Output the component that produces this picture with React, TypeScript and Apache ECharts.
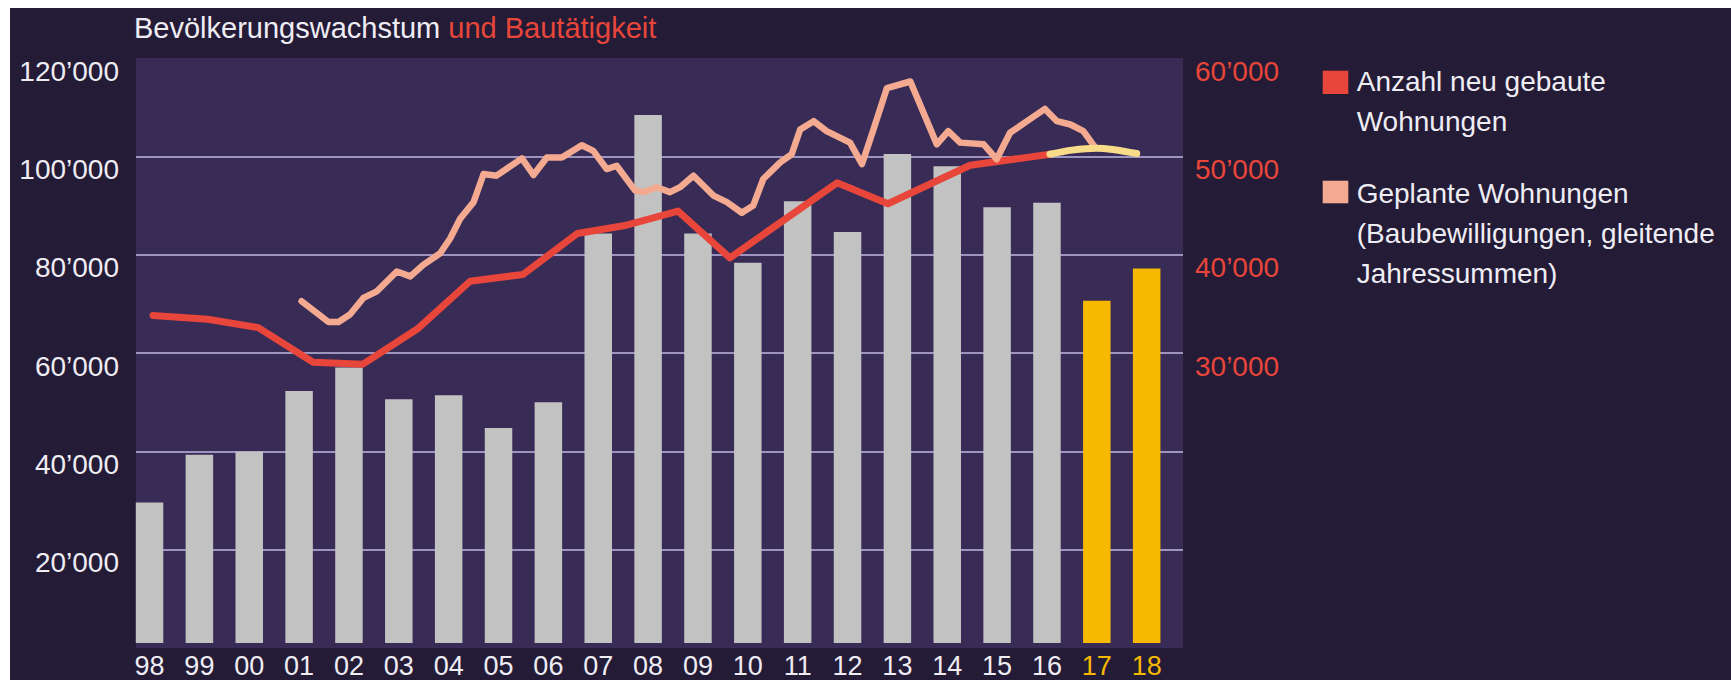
import React, { useEffect, useRef } from 'react';
import * as echarts from 'echarts';

// ---- data ----
const categories = ['98', '99', '00', '01', '02', '03', '04', '05', '06', '07', '08', '09', '10', '11', '12', '13', '14', '15', '16', '17', '18'];
const forecastCategories = ['17', '18'];
const populationGrowth = [28800, 38600, 39300, 51700, 56500, 50000, 50800, 44100, 49400, 84000, 108300, 84000, 78000, 90600, 84300, 100300, 97800, 89400, 90300, 70200, 76800];

const builtYears = [1998.57, 1999.67, 2000.68, 2001.78, 2002.78, 2003.87, 2004.93, 2005.99, 2007.08, 2008.07, 2009.1, 2010.14, 2012.29, 2013.31, 2014.96, 2016.56];
const builtValues = [33600, 33200, 32350, 28800, 28600, 32200, 37100, 37800, 42000, 42850, 44300, 39500, 47200, 45050, 49000, 50130];

const builtForecastYears = [2016.56, 2017.0, 2017.5, 2018.3];
const builtForecastValues = [50130, 50550, 50750, 50200];

const plannedYears = [2001.55, 2002.09, 2002.29, 2002.52, 2002.79, 2003.06, 2003.46, 2003.73, 2003.99, 2004.33, 2004.53, 2004.73, 2005.0, 2005.2, 2005.46, 2005.97, 2006.2, 2006.47, 2006.77, 2007.17, 2007.4, 2007.67, 2007.87, 2008.24, 2008.41, 2008.67, 2008.94, 2009.14, 2009.41, 2009.81, 2010.08, 2010.38, 2010.61, 2010.81, 2011.15, 2011.38, 2011.55, 2011.82, 2012.08, 2012.55, 2012.79, 2013.02, 2013.29, 2013.76, 2014.29, 2014.52, 2014.76, 2015.23, 2015.49, 2015.76, 2016.1, 2016.46, 2016.7, 2016.97, 2017.23, 2017.47];
const plannedValues = [35050, 32920, 32920, 33690, 35390, 36070, 38100, 37600, 38780, 39970, 41490, 43520, 45220, 48100, 47930, 49700, 48000, 49800, 49800, 51050, 50470, 48610, 48950, 46400, 46240, 46750, 46240, 46750, 47930, 45890, 45220, 44130, 44880, 47590, 49290, 50130, 52670, 53520, 52500, 51320, 49120, 52670, 56920, 57590, 51150, 52500, 51320, 51150, 49620, 52330, 53520, 54780, 53520, 53180, 52500, 50810];

const leftAxisMax = 120000;
const leftAxisStep = 20000;
const rightAxisMax = 60000;
const rightAxisStep = 10000;
const rightLabelFrom = 30000;

const titleWhite = 'Bevölkerungswachstum';
const titleRed = 'und Bautätigkeit';
const legendBuilt = 'Anzahl neu gebaute\nWohnungen';
const legendPlanned = 'Geplante Wohnungen\n(Baubewilligungen, gleitende\nJahressummen)';

// ---- style ----
const FONT = '"Liberation Sans", Arial, Helvetica, sans-serif';
const TEXT = '#efedf4';
const RED = '#e8463a';
const PINK = '#f3aa90';
const YELLOW_LINE = '#f8dc8a';
const YELLOW_BAR = '#f6b900';
const GREY_BAR = '#c2c2c2';

const fmt = (v: number) => {
  const s = String(Math.round(v));
  return s.replace(/\B(?=(\d{3})+(?!\d))/g, '\u2019');
};

export default function App() {
  const ref = useRef<HTMLDivElement>(null);

  useEffect(() => {
    if (!ref.current) return;
    const chart = echarts.init(ref.current, undefined, { renderer: 'svg' });

    const option: any = {
      animation: false,
      backgroundColor: '#241b36',
      title: {
        left: 124,
        top: 0,
        padding: 0,
        text: `{w|${titleWhite}} {r|${titleRed}}`,
        textStyle: {
          fontFamily: FONT,
          fontSize: 29,
          fontWeight: 'normal',
          color: TEXT,
          lineHeight: 40,
          rich: {
            w: { color: TEXT, fontSize: 29, fontFamily: FONT, lineHeight: 40 },
            r: { color: RED, fontSize: 29, fontFamily: FONT, lineHeight: 40 },
          },
        },
      },
      grid: [
        { left: 126, top: 50, width: 1047, height: 590, show: true, backgroundColor: '#382c56', borderWidth: 0 },
        { left: 114.6, top: 50, width: 1047, height: 590 },
      ],
      xAxis: [
        { gridIndex: 0, type: 'value', min: 0, max: 1, show: false },
        {
          gridIndex: 1,
          type: 'category',
          data: categories,
          axisLine: { show: false },
          axisTick: { show: false },
          axisLabel: {
            margin: 9,
            fontSize: 27,
            lineHeight: 28,
            fontFamily: FONT,
            color: TEXT,
            interval: 0,
            formatter: (v: string) => (forecastCategories.includes(v) ? `{y|${v}}` : v),
            rich: { y: { color: YELLOW_BAR, fontSize: 27, lineHeight: 28, fontFamily: FONT } },
          },
        },
        { gridIndex: 1, type: 'value', min: 1998, max: 1998 + categories.length, show: false },
      ],
      yAxis: [
        {
          gridIndex: 0,
          type: 'value',
          position: 'left',
          min: 0,
          max: leftAxisMax,
          interval: leftAxisStep,
          axisLine: { show: false },
          axisTick: { show: false },
          splitLine: { show: true, showMinLine: false, showMaxLine: false, lineStyle: { color: '#9d94c0', width: 2 } },
          axisLabel: {
            margin: 17,
            fontSize: 28,
            fontFamily: FONT,
            color: TEXT,
            verticalAlign: 'top',
            lineHeight: 26,
            formatter: (v: number) => (v === 0 ? '' : fmt(v)),
          },
        },
        {
          gridIndex: 0,
          type: 'value',
          position: 'right',
          min: 0,
          max: rightAxisMax,
          interval: rightAxisStep,
          axisLine: { show: false },
          axisTick: { show: false },
          splitLine: { show: false },
          axisLabel: {
            margin: 12,
            fontSize: 28,
            fontFamily: FONT,
            color: RED,
            verticalAlign: 'top',
            lineHeight: 26,
            formatter: (v: number) => (v >= rightLabelFrom ? fmt(v) : ''),
          },
        },
        { gridIndex: 1, type: 'value', min: 0, max: leftAxisMax, show: false },
        { gridIndex: 1, type: 'value', min: 0, max: rightAxisMax, show: false },
      ],
      series: [
        {
          name: 'Bevölkerungswachstum',
          type: 'bar',
          xAxisIndex: 1,
          yAxisIndex: 2,
          barWidth: 27.5,
          data: populationGrowth.map((v, i) => ({
            value: v,
            itemStyle: { color: forecastCategories.includes(categories[i]) ? YELLOW_BAR : GREY_BAR },
          })),
        },
        {
          name: 'Anzahl neu gebaute Wohnungen',
          type: 'line',
          xAxisIndex: 2,
          yAxisIndex: 3,
          symbol: 'none',
          data: builtYears.map((t, i) => [t, builtValues[i]]),
          lineStyle: { color: RED, width: 7, cap: 'round', join: 'round' },
          z: 3,
        },
        {
          name: 'Geplante Wohnungen',
          type: 'line',
          xAxisIndex: 2,
          yAxisIndex: 3,
          symbol: 'none',
          data: plannedYears.map((t, i) => [t, plannedValues[i]]),
          lineStyle: { color: PINK, width: 6.5, cap: 'round', join: 'round' },
          z: 4,
        },
        {
          name: 'Prognose neu gebaute Wohnungen',
          type: 'line',
          xAxisIndex: 2,
          yAxisIndex: 3,
          symbol: 'none',
          smooth: 0.3,
          data: builtForecastYears.map((t, i) => [t, builtForecastValues[i]]),
          lineStyle: { color: YELLOW_LINE, width: 7, cap: 'round', join: 'round' },
          z: 5,
        },
      ],
      graphic: [
        { type: 'rect', left: 1312.7, top: 62.7, shape: { width: 25.6, height: 23.3 }, style: { fill: RED } },
        {
          type: 'text',
          x: 1346.7,
          y: 53.8,
          style: { text: legendBuilt, fill: TEXT, fontSize: 28, fontFamily: FONT, lineHeight: 40, verticalAlign: 'top' },
        },
        { type: 'rect', left: 1312.7, top: 172.7, shape: { width: 25.6, height: 22.6 }, style: { fill: PINK } },
        {
          type: 'text',
          x: 1346.7,
          y: 165.3,
          style: { text: legendPlanned, fill: TEXT, fontSize: 28, fontFamily: FONT, lineHeight: 40, verticalAlign: 'top' },
        },
      ],
    };

    chart.setOption(option);
    return () => chart.dispose();
  }, []);

  return (
    <div
      ref={ref}
      style={{ position: 'absolute', left: 10, top: 8, width: 1721, height: 672 }}
    />
  );
}
